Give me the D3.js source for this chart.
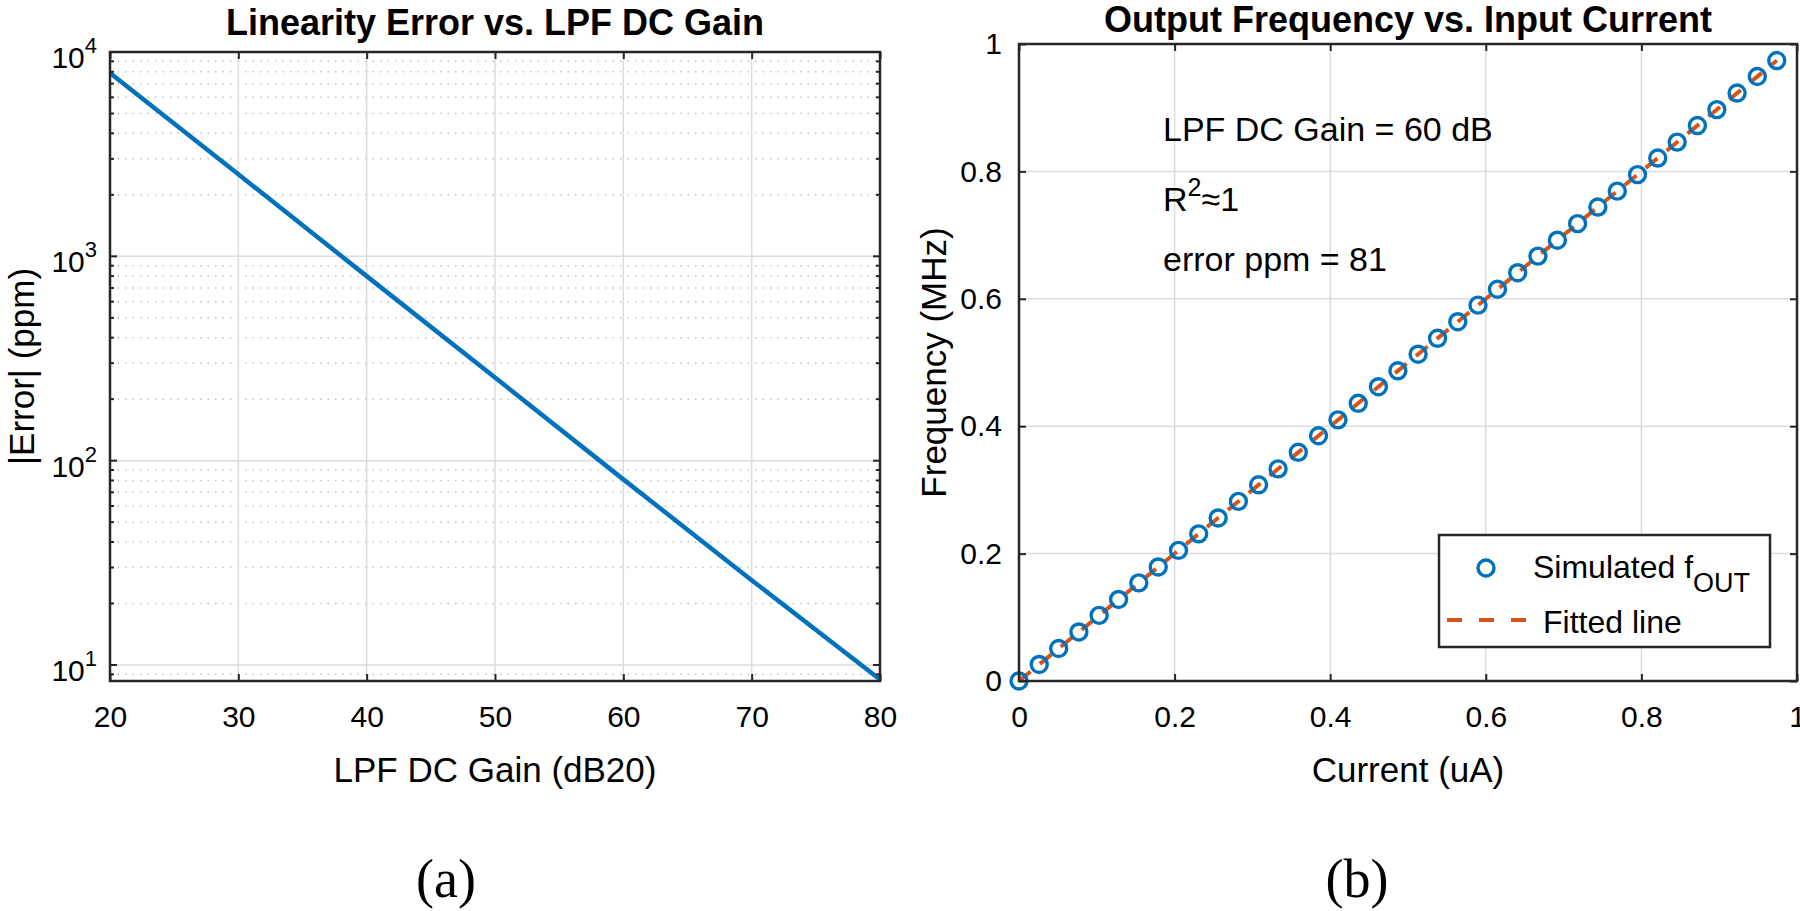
<!DOCTYPE html>
<html><head><meta charset="utf-8">
<script src="https://cdn.jsdelivr.net/npm/d3@7"></script>
<style>body{margin:0;background:#fff}svg{display:block}text{font-family:"Liberation Sans",Arial,sans-serif;fill:#000}text.cap{font-family:"Liberation Serif","Times New Roman",serif}</style>
</head><body><svg id="c" width="1800" height="911"></svg>
<script>
// ---- data ----
const gainDb = [20, 30, 40, 50, 60, 70, 80];
const errorPpm = [7900, 2520, 800, 255, 81, 26, 8.5];
const gainTicks = [20, 30, 40, 50, 60, 70, 80];
const errDecades = [1, 2, 3, 4];

const currentUA = [0, 0.026, 0.051, 0.077, 0.103, 0.128, 0.154, 0.179, 0.205, 0.231, 0.256, 0.282, 0.308, 0.333, 0.359, 0.385, 0.41, 0.436, 0.462, 0.487, 0.513, 0.538, 0.564, 0.59, 0.615, 0.641, 0.667, 0.692, 0.718, 0.744, 0.769, 0.795, 0.821, 0.846, 0.872, 0.897, 0.923, 0.949, 0.974];
const freqMHz = [0, 0.026, 0.051, 0.077, 0.103, 0.128, 0.154, 0.179, 0.205, 0.231, 0.256, 0.282, 0.308, 0.333, 0.359, 0.385, 0.41, 0.436, 0.462, 0.487, 0.513, 0.538, 0.564, 0.59, 0.615, 0.641, 0.667, 0.692, 0.718, 0.744, 0.769, 0.795, 0.821, 0.846, 0.872, 0.897, 0.923, 0.949, 0.974];
const fitX = [0, 0.974];
const fitY = [0, 0.974];
const unitTicks = [0, 0.2, 0.4, 0.6, 0.8, 1];
const unitTickLabels = ["0", "0.2", "0.4", "0.6", "0.8", "1"];

const BLUE = "#0072BD", ORANGE = "#D95319", AX = "#262626", GRID = "#dcdcdc";
const TICK_FS = 30, LABEL_FS = 35, TITLE_FS = 36;
const svg = d3.select("#c");

// ---------- left plot ----------
const L = {x0: 110, x1: 880, y0: 52, y1: 681};
const xl = d3.scaleLinear().domain([20, 80]).range([L.x0, L.x1]);
const yl = d3.scaleLog().domain([8.35, 10000]).range([L.y1, L.y0]);
const gl = svg.append("g");
const minorVals = [];
[1, 10, 100, 1000].forEach(d => { for (let k = 2; k <= 9; k++) { const v = d * k; if (v >= 8.35 && v < 10000) minorVals.push(v); } });
gl.selectAll(".mg").data(minorVals).enter().append("line")
  .attr("x1", L.x0).attr("x2", L.x1).attr("y1", d => yl(d)).attr("y2", d => yl(d))
  .attr("stroke", "#c4c4c4").attr("stroke-width", 1.5).attr("stroke-dasharray", "1.5,6");
gl.selectAll(".gy").data(errDecades.map(e => Math.pow(10, e))).enter().append("line")
  .attr("x1", L.x0).attr("x2", L.x1).attr("y1", d => yl(d)).attr("y2", d => yl(d))
  .attr("stroke", GRID).attr("stroke-width", 1.5);
gl.selectAll(".gx").data(gainTicks.slice(1, -1)).enter().append("line")
  .attr("x1", d => xl(d)).attr("x2", d => xl(d)).attr("y1", L.y0).attr("y2", L.y1)
  .attr("stroke", GRID).attr("stroke-width", 1.5);
gl.append("path").datum(gainDb.map((g, i) => [g, errorPpm[i]]))
  .attr("d", d3.line().x(d => xl(d[0])).y(d => yl(d[1])))
  .attr("fill", "none").attr("stroke", BLUE).attr("stroke-width", 4.5);
gl.append("g").attr("transform", `translate(0,${L.y1})`)
  .call(d3.axisBottom(xl).tickValues(gainTicks).tickSize(-7).tickPadding(25).tickFormat(d3.format("d")))
  .call(g => { g.select(".domain").remove(); g.selectAll("line").attr("stroke", AX).attr("stroke-width", 2);
    g.selectAll("text").attr("font-size", TICK_FS).attr("fill", "#222").attr("font-family", "Liberation Sans"); });
gl.append("g").attr("transform", `translate(0,${L.y0})`)
  .call(d3.axisTop(xl).tickValues(gainTicks).tickSize(-7).tickFormat(""))
  .call(g => { g.select(".domain").remove(); g.selectAll("line").attr("stroke", AX).attr("stroke-width", 2); });
const yTickAll = minorVals.concat(errDecades.map(e => Math.pow(10, e)));
gl.selectAll(".ytk").data(yTickAll).enter().append("line")
  .attr("x1", L.x0).attr("x2", d => L.x0 + (minorVals.includes(d) ? 4 : 7))
  .attr("y1", d => yl(d)).attr("y2", d => yl(d)).attr("stroke", AX).attr("stroke-width", 2);
gl.selectAll(".ytkr").data(yTickAll).enter().append("line")
  .attr("x1", L.x1).attr("x2", d => L.x1 - (minorVals.includes(d) ? 4 : 7))
  .attr("y1", d => yl(d)).attr("y2", d => yl(d)).attr("stroke", AX).attr("stroke-width", 2);
const ylab = gl.selectAll(".ylab").data(errDecades).enter().append("text")
  .attr("x", L.x0 - 13).attr("y", e => yl(Math.pow(10, e)) + 16)
  .attr("text-anchor", "end").attr("font-size", TICK_FS).attr("fill", "#222");
ylab.append("tspan").text("10");
ylab.append("tspan").attr("dy", -15).attr("font-size", 22).text(e => e);
gl.append("rect").attr("x", L.x0).attr("y", L.y0).attr("width", L.x1 - L.x0).attr("height", L.y1 - L.y0)
  .attr("fill", "none").attr("stroke", AX).attr("stroke-width", 2.5);
gl.append("text").attr("x", (L.x0 + L.x1) / 2).attr("y", 35).attr("text-anchor", "middle")
  .attr("font-size", TITLE_FS).attr("font-weight", "bold").text("Linearity Error vs. LPF DC Gain");
gl.append("text").attr("x", (L.x0 + L.x1) / 2).attr("y", 782).attr("text-anchor", "middle")
  .attr("font-size", LABEL_FS).text("LPF DC Gain (dB20)");
gl.append("text").attr("transform", `translate(34,${(L.y0 + L.y1) / 2}) rotate(-90)`).attr("text-anchor", "middle")
  .attr("font-size", LABEL_FS).text("|Error| (ppm)");
svg.append("text").attr("class", "cap").attr("x", 446).attr("y", 897).attr("text-anchor", "middle")
  .attr("font-size", 54).text("(a)");

// ---------- right plot ----------
const R = {x0: 1019, x1: 1797, y0: 44, y1: 681};
const xr = d3.scaleLinear().domain([0, 1]).range([R.x0, R.x1]);
const yr = d3.scaleLinear().domain([0, 1]).range([R.y1, R.y0]);
const gr = svg.append("g");
gr.selectAll(".gx").data(unitTicks.slice(1, -1)).enter().append("line")
  .attr("x1", d => xr(d)).attr("x2", d => xr(d)).attr("y1", R.y0).attr("y2", R.y1)
  .attr("stroke", GRID).attr("stroke-width", 1.5);
gr.selectAll(".gy").data(unitTicks.slice(1, -1)).enter().append("line")
  .attr("x1", R.x0).attr("x2", R.x1).attr("y1", d => yr(d)).attr("y2", d => yr(d))
  .attr("stroke", GRID).attr("stroke-width", 1.5);
const tf = d => unitTickLabels[unitTicks.indexOf(d)];
gr.append("g").attr("transform", `translate(0,${R.y1})`)
  .call(d3.axisBottom(xr).tickValues(unitTicks).tickSize(-7).tickPadding(25).tickFormat(tf))
  .call(g => { g.select(".domain").remove(); g.selectAll("line").attr("stroke", AX).attr("stroke-width", 2);
    g.selectAll("text").attr("font-size", TICK_FS).attr("fill", "#222").attr("font-family", "Liberation Sans"); });
gr.append("g").attr("transform", `translate(0,${R.y0})`)
  .call(d3.axisTop(xr).tickValues(unitTicks).tickSize(-7).tickFormat(""))
  .call(g => { g.select(".domain").remove(); g.selectAll("line").attr("stroke", AX).attr("stroke-width", 2); });
gr.append("g").attr("transform", `translate(${R.x0},0)`)
  .call(d3.axisLeft(yr).tickValues(unitTicks).tickSize(-7).tickPadding(17).tickFormat(tf))
  .call(g => { g.select(".domain").remove(); g.selectAll("line").attr("stroke", AX).attr("stroke-width", 2);
    g.selectAll("text").attr("font-size", TICK_FS).attr("fill", "#222").attr("font-family", "Liberation Sans"); });
gr.append("g").attr("transform", `translate(${R.x1},0)`)
  .call(d3.axisRight(yr).tickValues(unitTicks).tickSize(-7).tickFormat(""))
  .call(g => { g.select(".domain").remove(); g.selectAll("line").attr("stroke", AX).attr("stroke-width", 2); });
gr.append("path").datum(fitX.map((x, i) => [x, fitY[i]]))
  .attr("d", d3.line().x(d => xr(d[0])).y(d => yr(d[1])))
  .attr("fill", "none").attr("stroke", ORANGE).attr("stroke-width", 4).attr("stroke-dasharray", "15,12");
gr.selectAll(".pt").data(currentUA.map((x, i) => [x, freqMHz[i]])).enter().append("circle")
  .attr("cx", d => xr(d[0])).attr("cy", d => yr(d[1])).attr("r", 8)
  .attr("fill", "none").attr("stroke", BLUE).attr("stroke-width", 3.4);
gr.append("rect").attr("x", R.x0).attr("y", R.y0).attr("width", R.x1 - R.x0).attr("height", R.y1 - R.y0)
  .attr("fill", "none").attr("stroke", AX).attr("stroke-width", 2.5);
// annotations
const ANN_FS = 34;
gr.append("text").attr("x", 1163).attr("y", 141).attr("font-size", ANN_FS).text("LPF DC Gain = 60 dB");
const r2 = gr.append("text").attr("x", 1163).attr("y", 211).attr("font-size", ANN_FS);
r2.append("tspan").text("R");
r2.append("tspan").attr("dy", -15).attr("font-size", 25).text("2");
r2.append("tspan").attr("dy", 15).text("\u22481");
gr.append("text").attr("x", 1163).attr("y", 271).attr("font-size", ANN_FS).text("error ppm = 81");
// legend
gr.append("rect").attr("x", 1439).attr("y", 535).attr("width", 331).attr("height", 112)
  .attr("fill", "#fff").attr("stroke", AX).attr("stroke-width", 2.5);
gr.append("circle").attr("cx", 1486).attr("cy", 568).attr("r", 8).attr("fill", "none").attr("stroke", BLUE).attr("stroke-width", 3.4);
const lt = gr.append("text").attr("x", 1533).attr("y", 578).attr("font-size", 32);
lt.append("tspan").text("Simulated f");
lt.append("tspan").attr("dy", 14).attr("font-size", 27).text("OUT");
gr.append("line").attr("x1", 1447).attr("x2", 1526).attr("y1", 620).attr("y2", 620)
  .attr("stroke", ORANGE).attr("stroke-width", 4).attr("stroke-dasharray", "15,17");
gr.append("text").attr("x", 1543).attr("y", 633).attr("font-size", 32).text("Fitted line");
gr.append("text").attr("x", (R.x0 + R.x1) / 2).attr("y", 32).attr("text-anchor", "middle")
  .attr("font-size", TITLE_FS).attr("font-weight", "bold").text("Output Frequency vs. Input Current");
gr.append("text").attr("x", (R.x0 + R.x1) / 2).attr("y", 782).attr("text-anchor", "middle")
  .attr("font-size", LABEL_FS).text("Current (uA)");
gr.append("text").attr("transform", `translate(946,${(R.y0 + R.y1) / 2}) rotate(-90)`).attr("text-anchor", "middle")
  .attr("font-size", LABEL_FS).text("Frequency (MHz)");
svg.append("text").attr("class", "cap").attr("x", 1357).attr("y", 897).attr("text-anchor", "middle")
  .attr("font-size", 54).text("(b)");
</script></body></html>
